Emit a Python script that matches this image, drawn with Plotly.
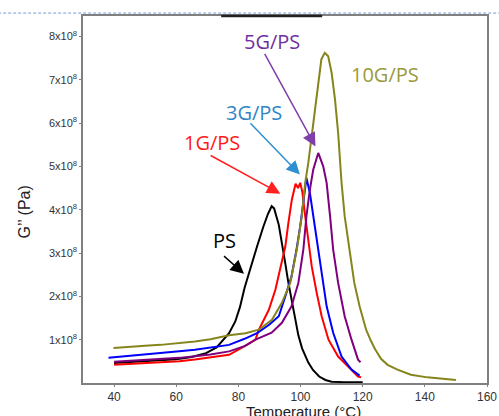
import plotly.graph_objects as go

# Loss modulus G'' vs temperature for PS and graphene/PS composites
ps_T = [40, 45, 50, 55, 60, 65, 69.6, 73, 75, 77, 79, 80.5, 82, 84, 86, 88, 89.5, 90.7, 91.5, 93, 94, 95, 96, 97, 98, 99.3, 100.5, 102.5, 104, 106, 108, 110, 114, 120]
ps_G = [0.46, 0.48, 0.51, 0.53, 0.55, 0.6, 0.69, 0.82, 0.98, 1.15, 1.42, 1.75, 2.2, 2.7, 3.15, 3.6, 3.9, 4.08, 4.03, 3.65, 3.25, 2.8, 2.35, 1.95, 1.55, 1.1, 0.8, 0.47, 0.3, 0.15, 0.07, 0.03, 0.02, 0.02]

g1_T = [40, 45, 50, 55, 61, 66, 71, 77, 82.3, 85.5, 86.6, 89.8, 91.9, 93.5, 95.1, 96.1, 97.2, 98.4, 99.2, 99.9, 100.6, 101.5, 102.6, 103.6, 105.2, 106.8, 109, 112.1, 115.3, 118.5, 119.5]
g1_G = [0.42, 0.44, 0.46, 0.48, 0.5, 0.54, 0.59, 0.65, 0.86, 1.0, 1.23, 1.69, 2.15, 2.69, 3.15, 3.7, 4.23, 4.6, 4.5, 4.62, 4.4, 3.85, 3.23, 2.69, 2.08, 1.54, 1.0, 0.61, 0.38, 0.15, 0.13]

g3_T = [38.2, 45, 50, 55, 61, 66, 71, 77, 82, 86, 90, 93, 95.1, 97.1, 98.7, 99.9, 101, 101.9, 103, 104.1, 105.2, 106.8, 108.4, 110.5, 113.2, 116.4, 119]
g3_G = [0.58, 0.62, 0.65, 0.69, 0.73, 0.77, 0.82, 0.88, 1.02, 1.15, 1.35, 1.54, 2.0, 2.46, 3.08, 3.62, 4.23, 4.73, 4.39, 3.85, 3.23, 2.46, 1.77, 1.16, 0.61, 0.31, 0.17]

g5_T = [40, 45, 50, 55, 61, 66, 71, 77, 82, 85.5, 90.7, 94, 97.1, 99.3, 100.9, 101.9, 103, 104.1, 105.7, 107.3, 108.4, 109.5, 110.5, 112.1, 114.2, 116.4, 118.5, 119.3]
g5_G = [0.49, 0.51, 0.53, 0.55, 0.58, 0.62, 0.66, 0.73, 0.85, 1.0, 1.16, 1.39, 1.77, 2.31, 3.08, 3.85, 4.46, 4.93, 5.31, 5.0, 4.62, 3.85, 3.08, 2.31, 1.54, 1.0, 0.54, 0.48]

g10_T = [39.8, 45, 50, 55, 61, 66, 71, 77, 82.3, 86.6, 90.8, 94, 96.7, 98.8, 100.4, 101.5, 102.5, 103.5, 104.6, 105.7, 106.7, 107.8, 108.9, 110, 111.1, 112.1, 112.7, 113.2, 114.2, 115.8, 117.3, 119, 121.1, 122.6, 124, 125.9, 128, 131.2, 135.5, 140.8, 148.2, 150]
g10_G = [0.81, 0.84, 0.86, 0.88, 0.92, 0.96, 1.01, 1.1, 1.15, 1.23, 1.46, 1.85, 2.31, 3.08, 3.85, 4.62, 5.08, 5.62, 6.24, 6.93, 7.47, 7.62, 7.54, 7.16, 6.54, 5.77, 5.0, 4.62, 3.85, 3.08, 2.31, 1.77, 1.23, 0.98, 0.78, 0.56, 0.42, 0.31, 0.19, 0.13, 0.08, 0.07]

series = [
    ("PS", ps_T, ps_G, "#000000"),
    ("1G/PS", g1_T, g1_G, "#ff0000"),
    ("3G/PS", g3_T, g3_G, "#0000ff"),
    ("5G/PS", g5_T, g5_G, "#7f007f"),
    ("10G/PS", g10_T, g10_G, "#85851c"),
]

y_ticks = [1, 2, 3, 4, 5, 6, 7, 8]
y_tick_text = [f"{v}x10<sup>8</sup>" for v in y_ticks]
x_ticks = [40, 60, 80, 100, 120, 140, 160]

fig = go.Figure()
for name, T, G, color in series:
    fig.add_trace(go.Scatter(x=T, y=[g * 1e8 for g in G], mode="lines", name=name,
                             line=dict(color=color, width=2), showlegend=False))

# Labels with pointer arrows: (text, text pos, arrow tail, arrow head, text colour, arrow colour)
labels = [
    ("5G/PS", (90.7, 7.88), (88.2, 7.63), (104.8, 5.46), "#7030a0", "#7f3fa8"),
    ("3G/PS", (85.0, 6.24), (83.4, 6.03), (99.8, 4.81), "#2e86c8", "#2e90d0"),
    ("1G/PS", (71.6, 5.55), (70.6, 5.27), (93.5, 4.37), "#ff1a1a", "#ff2020"),
    ("PS", (75.4, 3.28), (74.9, 2.96), (81.8, 2.52), "#000000", "#000000"),
    ("10G/PS", (127.1, 7.12), None, None, "#9a9a3a", None),
]
for text, (tx, ty), tail, head, tcolor, acolor in labels:
    fig.add_annotation(x=tx, y=ty * 1e8, text=text, showarrow=False,
                       font=dict(family="Open Sans", size=20, color=tcolor))
    if tail is not None:
        fig.add_annotation(x=head[0], y=head[1] * 1e8, ax=tail[0], ay=tail[1] * 1e8,
                           axref="x", ayref="y", text="", showarrow=True,
                           arrowhead=2, arrowsize=1.8, arrowwidth=1.5,
                           arrowcolor=acolor, standoff=0, startstandoff=0)

fig.add_annotation(x=0.5446, y=-0.049, xref="paper", yref="paper",
                   text="Temperature (°C)", showarrow=False,
                   xanchor="center", yanchor="top",
                   font=dict(family="Liberation Sans", size=15, color="#222222"))
fig.add_annotation(x=-0.146, y=0.4646, xref="paper", yref="paper",
                   text="G\u2019\u2019 (Pa)", showarrow=False, textangle=-90,
                   xanchor="center", yanchor="middle",
                   font=dict(family="Liberation Sans", size=16, color="#222222"))

# Dashed guide line across the top and dark segment on the frame
fig.add_shape(type="line", xref="paper", yref="paper", x0=-0.21, x1=1.04, y0=1.008, y1=1.008,
              line=dict(color="#6f9fd8", width=1, dash="3px,2px"))
fig.add_shape(type="line", xref="paper", yref="paper", x0=0.342, x1=0.592, y0=1.0, y1=1.0,
              line=dict(color="#222222", width=2.5))

axis_common = dict(showline=True, mirror=True, linecolor="#808080", linewidth=1.5,
                   showgrid=False, zeroline=False, ticks="outside", ticklen=2,
                   tickcolor="#808080", tickwidth=1, automargin=False)
fig.update_xaxes(range=[30, 160], tickvals=x_ticks,
                 tickfont=dict(family="Liberation Sans", size=12, color="#333333"),
                 **axis_common)
fig.update_yaxes(range=[0, 8.47e8], tickvals=[v * 1e8 for v in y_ticks], ticktext=y_tick_text,
                 tickfont=dict(family="Liberation Sans", size=11, color="#333333"),
                 **axis_common)

fig.update_layout(width=499, height=416, margin=dict(l=83, r=12, t=16, b=33),
                  paper_bgcolor="white", plot_bgcolor="white")

fig.write_html("out.html")
